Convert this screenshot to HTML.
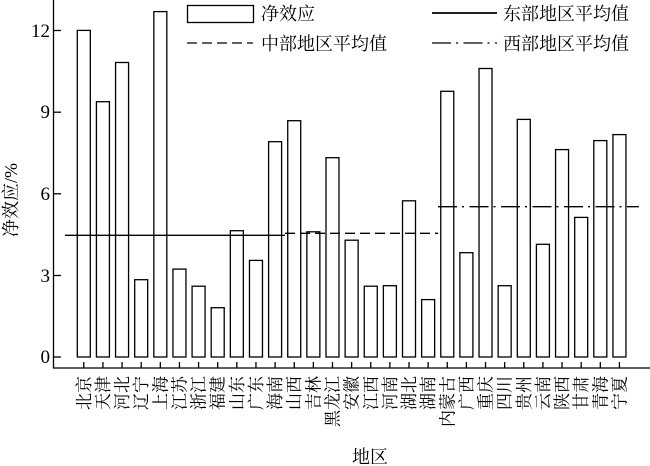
<!DOCTYPE html>
<html><head><meta charset="utf-8"><style>
html,body{margin:0;padding:0;background:#fff}
svg{display:block}
text{font-family:"Liberation Serif","Noto Serif CJK SC","Noto Sans CJK SC",serif;fill:#000}
</style></head><body>
<svg xmlns="http://www.w3.org/2000/svg" width="650" height="466" viewBox="0 0 650 466">
<g stroke="#000" stroke-width="1.3" fill="none">
<line x1="53.5" y1="0" x2="53.5" y2="368"/>
<line x1="53" y1="368" x2="650" y2="368"/>
<line x1="53.5" y1="357" x2="61" y2="357"/>
<line x1="53.5" y1="275.5" x2="61" y2="275.5"/>
<line x1="53.5" y1="193.8" x2="61" y2="193.8"/>
<line x1="53.5" y1="112.2" x2="61" y2="112.2"/>
<line x1="53.5" y1="30.5" x2="61" y2="30.5"/>
</g>
<g font-size="19" text-anchor="end">
<text x="50" y="363">0</text>
<text x="50" y="282">3</text>
<text x="50" y="200">6</text>
<text x="50" y="118">9</text>
<text x="50" y="37">12</text>
</g>
<text font-size="18" text-anchor="middle" transform="translate(17,200) rotate(-90)">净效应/%</text>
<g stroke="#000" stroke-width="1.3" fill="#fff">
<rect x="77.3" y="30.4" width="13" height="326.6"/>
<rect x="96.43" y="101.7" width="13" height="255.3"/>
<rect x="115.56" y="62.5" width="13" height="294.5"/>
<rect x="134.69" y="279.7" width="13" height="77.3"/>
<rect x="153.82" y="11.6" width="13" height="345.4"/>
<rect x="172.95" y="269.1" width="13" height="87.9"/>
<rect x="192.08" y="286.2" width="13" height="70.8"/>
<rect x="211.21" y="307.7" width="13" height="49.3"/>
<rect x="230.34" y="230.7" width="13" height="126.3"/>
<rect x="249.47" y="260.4" width="13" height="96.6"/>
<rect x="268.6" y="141.7" width="13" height="215.3"/>
<rect x="287.73" y="120.7" width="13" height="236.3"/>
<rect x="306.86" y="231.8" width="13" height="125.2"/>
<rect x="325.99" y="157.7" width="13" height="199.3"/>
<rect x="345.12" y="240.2" width="13" height="116.8"/>
<rect x="364.25" y="286.2" width="13" height="70.8"/>
<rect x="383.38" y="285.7" width="13" height="71.3"/>
<rect x="402.51" y="200.8" width="13" height="156.2"/>
<rect x="421.64" y="299.6" width="13" height="57.4"/>
<rect x="440.77" y="91.3" width="13" height="265.7"/>
<rect x="459.9" y="252.7" width="13" height="104.3"/>
<rect x="479.03" y="68.5" width="13" height="288.5"/>
<rect x="498.16" y="285.7" width="13" height="71.3"/>
<rect x="517.29" y="119.4" width="13" height="237.6"/>
<rect x="536.42" y="244.3" width="13" height="112.7"/>
<rect x="555.55" y="149.6" width="13" height="207.4"/>
<rect x="574.68" y="217.4" width="13" height="139.6"/>
<rect x="593.81" y="140.6" width="13" height="216.4"/>
<rect x="612.94" y="134.6" width="13" height="222.4"/>
</g>
<g stroke="#000" stroke-width="1.3">
<line x1="65" y1="235.3" x2="285" y2="235.3"/>
<line x1="285" y1="233.3" x2="438" y2="233.3" stroke-dasharray="10,5"/>
<line x1="438" y1="206.7" x2="639" y2="206.7" stroke-dasharray="19,5,2,5.5"/>
<rect x="187.5" y="5.5" width="66" height="17" fill="#fff"/>
<line x1="187" y1="43" x2="253" y2="43" stroke-dasharray="10,5"/>
<line x1="432" y1="13" x2="497" y2="13" stroke-width="1.8"/>
<line x1="432" y1="43" x2="497" y2="43" stroke-dasharray="19,5,2,5.5"/>
</g>
<g stroke="#000" stroke-width="1.3">
<path d="M83.8 362V368M102.93 362V368M122.06 362V368M141.19 362V368M160.32 362V368M179.45 362V368M198.58 362V368M217.71 362V368M236.84 362V368M255.97 362V368M275.1 362V368M294.23 362V368M313.36 362V368M332.49 362V368M351.62 362V368M370.75 362V368M389.88 362V368M409.01 362V368M428.14 362V368M447.27 362V368M466.4 362V368M485.53 362V368M504.66 362V368M523.79 362V368M542.92 362V368M562.05 362V368M581.18 362V368M600.31 362V368M619.44 362V368"/>
</g>
<g font-size="18">
<text x="261" y="20">净效应</text>
<text x="261" y="50">中部地区平均值</text>
<text x="503" y="20">东部地区平均值</text>
<text x="503" y="50">西部地区平均值</text>
</g>
<text font-size="18" x="370" y="463" text-anchor="middle">地区</text>
<g font-size="17" text-anchor="end">
<text transform="translate(83.8,376) rotate(-90)" y="6">北京</text>
<text transform="translate(102.93,376) rotate(-90)" y="6">天津</text>
<text transform="translate(122.06,376) rotate(-90)" y="6">河北</text>
<text transform="translate(141.19,376) rotate(-90)" y="6">辽宁</text>
<text transform="translate(160.32,376) rotate(-90)" y="6">上海</text>
<text transform="translate(179.45,376) rotate(-90)" y="6">江苏</text>
<text transform="translate(198.58,376) rotate(-90)" y="6">浙江</text>
<text transform="translate(217.71,376) rotate(-90)" y="6">福建</text>
<text transform="translate(236.84,376) rotate(-90)" y="6">山东</text>
<text transform="translate(255.97,376) rotate(-90)" y="6">广东</text>
<text transform="translate(275.1,376) rotate(-90)" y="6">海南</text>
<text transform="translate(294.23,376) rotate(-90)" y="6">山西</text>
<text transform="translate(313.36,376) rotate(-90)" y="6">吉林</text>
<text transform="translate(332.49,376) rotate(-90)" y="6">黑龙江</text>
<text transform="translate(351.62,376) rotate(-90)" y="6">安徽</text>
<text transform="translate(370.75,376) rotate(-90)" y="6">江西</text>
<text transform="translate(389.88,376) rotate(-90)" y="6">河南</text>
<text transform="translate(409.01,376) rotate(-90)" y="6">湖北</text>
<text transform="translate(428.14,376) rotate(-90)" y="6">湖南</text>
<text transform="translate(447.27,376) rotate(-90)" y="6">内蒙古</text>
<text transform="translate(466.4,376) rotate(-90)" y="6">广西</text>
<text transform="translate(485.53,376) rotate(-90)" y="6">重庆</text>
<text transform="translate(504.66,376) rotate(-90)" y="6">四川</text>
<text transform="translate(523.79,376) rotate(-90)" y="6">贵州</text>
<text transform="translate(542.92,376) rotate(-90)" y="6">云南</text>
<text transform="translate(562.05,376) rotate(-90)" y="6">陕西</text>
<text transform="translate(581.18,376) rotate(-90)" y="6">甘肃</text>
<text transform="translate(600.31,376) rotate(-90)" y="6">青海</text>
<text transform="translate(619.44,376) rotate(-90)" y="6">宁夏</text>
</g>
</svg>
</body></html>
